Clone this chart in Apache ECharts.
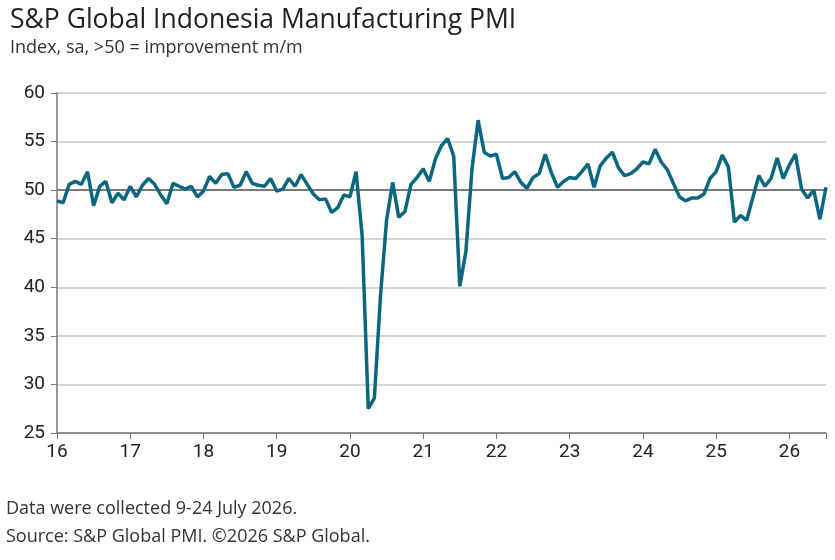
<!DOCTYPE html>
<html><head><meta charset="utf-8">
<script src="https://cdn.jsdelivr.net/npm/echarts@6/dist/echarts.min.js"></script>
<style>body{margin:0}#pmiChart{width:835px;height:560px}</style>
</head><body><div id="pmiChart"></div>
<script>
var pmi = {
    16: [48.9,48.7,50.6,50.9,50.6,51.9,48.4,50.4,50.9,48.7,49.7,49.0],
    17: [50.4,49.3,50.5,51.2,50.6,49.5,48.6,50.7,50.4,50.1,50.4,49.3],
    18: [49.9,51.4,50.7,51.6,51.7,50.3,50.5,51.9,50.7,50.5,50.4,51.2],
    19: [49.9,50.1,51.2,50.4,51.6,50.6,49.6,49.0,49.1,47.7,48.2,49.5],
    20: [49.3,51.9,45.3,27.5,28.6,39.1,46.9,50.8,47.2,47.8,50.6,51.3],
    21: [52.2,50.9,53.2,54.6,55.3,53.5,40.1,43.7,52.2,57.2,53.9,53.5],
    22: [53.7,51.2,51.3,51.9,50.8,50.2,51.3,51.7,53.7,51.8,50.3,50.9],
    23: [51.3,51.2,51.9,52.7,50.3,52.5,53.3,53.9,52.3,51.5,51.7,52.2],
    24: [52.9,52.7,54.2,52.9,52.1,50.7,49.3,48.9,49.2,49.2,49.6,51.2],
    25: [51.9,53.6,52.4,46.7,47.4,46.9,49.2,51.5,50.4,51.2,53.3,51.2],
    26: [52.6,53.7,50.1,49.2,50.0,47.0,50.3]
};
var data = [];
Object.keys(pmi).forEach(function(y){
    pmi[y].forEach(function(v, m){ data.push([Number(y) + m/12, v]); });
});

var chart = echarts.init(document.getElementById('pmiChart'));
chart.setOption({
    animation: false,
    title: {
        text: 'S&P Global Indonesia Manufacturing PMI',
        subtext: 'Index, sa, >50 = improvement m/m',
        left: 5, top: 2, itemGap: 5,
        textStyle: {fontFamily: 'Open Sans', fontWeight: 'normal', fontSize: 26.5, color: '#222'},
        subtextStyle: {fontFamily: 'Open Sans', fontSize: 18, color: '#333'}
    },
    graphic: [
        {type: 'text', left: 6, top: 500, style: {text: 'Data were collected 9-24 July 2026.', font: '18px "Open Sans"', fill: '#333'}},
        {type: 'text', left: 6, top: 528, style: {text: 'Source: S&P Global PMI. ©2026 S&P Global.', font: '18px "Open Sans"', fill: '#333'}}
    ],
    grid: {left: 57, right: 9, top: 93, bottom: 127},
    xAxis: {
        type: 'value', min: 16, max: 26.5, interval: 1,
        axisLine: {onZero: false, lineStyle: {color: '#777', width: 1.5}},
        axisTick: {show: true, length: 6, lineStyle: {color: '#777'}},
        axisLabel: {fontFamily: 'Roboto', fontSize: 19, color: '#222', margin: 10,
            formatter: function(v){ return Number.isInteger(v) ? String(v) : ''; }},
        splitLine: {show: false}
    },
    yAxis: {
        type: 'value', min: 25, max: 60, interval: 5,
        axisLine: {show: true, lineStyle: {color: '#777', width: 1.5}},
        axisTick: {show: true, length: 6, lineStyle: {color: '#777'}},
        axisLabel: {fontFamily: 'Roboto', fontSize: 19, color: '#222', margin: 12},
        splitLine: {lineStyle: {color: '#c8c8c8', width: 1.5}}
    },
    series: [{
        type: 'line',
        data: data,
        showSymbol: false,
        lineStyle: {color: '#0b6680', width: 3.5},
        markLine: {
            silent: true, symbol: 'none', label: {show: false}, z: 1,
            lineStyle: {color: '#7a7a7a', width: 2, type: 'solid'},
            data: [{yAxis: 50}]
        }
    }]
});
</script></body></html>
